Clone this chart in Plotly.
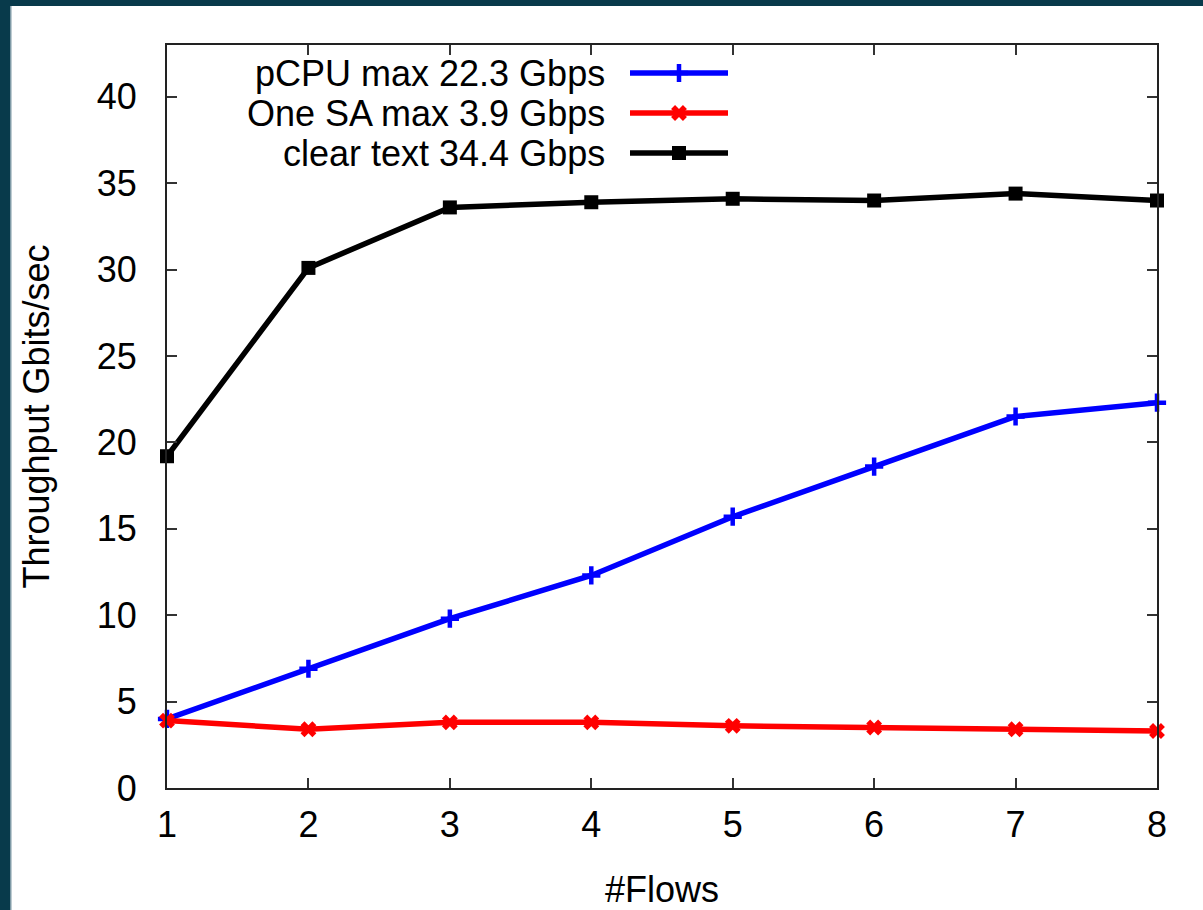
import plotly.graph_objects as go

flows = [1, 2, 3, 4, 5, 6, 7, 8]
pcpu = [4.0, 6.9, 9.8, 12.3, 15.7, 18.6, 21.5, 22.3]
one_sa = [3.9, 3.4, 3.8, 3.8, 3.6, 3.5, 3.4, 3.3]
clear_text = [19.2, 30.1, 33.6, 33.9, 34.1, 34.0, 34.4, 34.0]

series_names = ["pCPU max 22.3 Gbps", "One SA max 3.9 Gbps", "clear text 34.4 Gbps"]
series_values = [pcpu, one_sa, clear_text]
colors = ["#0000ff", "#ff0000", "#000000"]
symbols = ["cross-thin", "x", "square"]
msizes = [13, 14, 14]

W, H = 1203, 910
L, R, T, B = 167, 1157, 45, 788
FONT = "Liberation Sans, Arial, sans-serif"
FS = 36


def marker_line(c, s):
    return dict(color=c, width=4.5 if s == "cross-thin" else 0)


fig = go.Figure()

for name, vals, c, s, ms in zip(series_names, series_values, colors, symbols, msizes):
    fig.add_trace(go.Scatter(
        x=flows, y=vals, mode="lines+markers", name=name,
        line=dict(color=c, width=5.5),
        marker=dict(symbol=s, size=ms, color=c, line=marker_line(c, s)),
        showlegend=False, cliponaxis=False,
    ))

# legend samples on a hidden pixel-coordinate overlay axis
leg_rows = [73, 113, 153]
for name, c, s, ms, ry in zip(series_names, colors, symbols, msizes, leg_rows):
    fig.add_trace(go.Scatter(
        x=[630, 728], y=[ry, ry], mode="lines", xaxis="x2", yaxis="y2",
        line=dict(color=c, width=5.5), showlegend=False, hoverinfo="skip",
    ))
    fig.add_trace(go.Scatter(
        x=[679], y=[ry], mode="markers", xaxis="x2", yaxis="y2",
        marker=dict(symbol=s, size=ms, color=c, line=marker_line(c, s)),
        showlegend=False, hoverinfo="skip", cliponaxis=False,
    ))
    fig.add_annotation(x=607, y=ry, xref="x2", yref="y2", text=name, showarrow=False,
                       xanchor="right", yanchor="middle", font=dict(size=FS, color="#000000", family=FONT))


def px2x(px):
    return (px - L) / (R - L)


def py2y(py):
    return (B - py) / (B - T)


border = "#083a4b"
shapes = [
    dict(type="rect", xref="paper", yref="paper", x0=px2x(0), x1=px2x(W), y0=py2y(6), y1=py2y(0),
         fillcolor=border, line=dict(width=0), layer="above"),
    dict(type="rect", xref="paper", yref="paper", x0=px2x(0), x1=px2x(10), y0=py2y(H), y1=py2y(0),
         fillcolor=border, line=dict(width=0), layer="above"),
    dict(type="rect", xref="paper", yref="paper", x0=px2x(10), x1=px2x(11.5), y0=py2y(H), y1=py2y(6),
         fillcolor="#7f9aa6", line=dict(width=0), layer="above"),
]

axis_common = dict(
    showline=True, linecolor="#222222", linewidth=2, mirror="ticks",
    ticks="inside", ticklen=10, tickwidth=2, tickcolor="#333333",
    showgrid=False, zeroline=False,
    tickfont=dict(size=FS, color="#000000", family=FONT),
)

fig.update_layout(
    width=W, height=H,
    margin=dict(l=L, r=W - R, t=T, b=H - B, autoexpand=False),
    paper_bgcolor="#ffffff", plot_bgcolor="#ffffff",
    font=dict(family=FONT, size=FS, color="#000000"),
    xaxis=dict(range=[1, 8], tickvals=flows, ticklabelstandoff=4,
               title=dict(text="#Flows", font=dict(size=FS, family=FONT), standoff=33), **axis_common),
    yaxis=dict(range=[0, 43], tickvals=[0, 5, 10, 15, 20, 25, 30, 35, 40], ticklabelstandoff=21,
               title=dict(text="Throughput Gbits/sec", font=dict(size=FS, family=FONT), standoff=36), **axis_common),
    xaxis2=dict(range=[L, R], overlaying="x", visible=False, fixedrange=True),
    yaxis2=dict(range=[B, T], overlaying="y", visible=False, fixedrange=True),
    shapes=shapes,
    showlegend=False,
)

fig.write_html("out.html", config={"displayModeBar": False},
               post_script="document.body.style.margin='0';document.body.style.overflow='hidden';")
